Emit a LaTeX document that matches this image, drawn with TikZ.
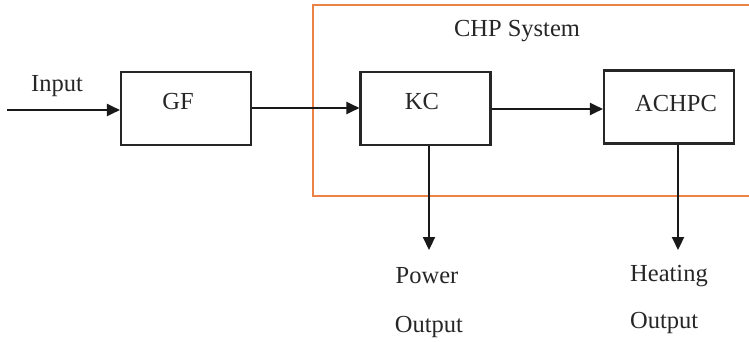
\documentclass[tikz,border=0pt]{standalone}
\usepackage{fontspec}
\setmainfont{Liberation Serif}
\usetikzlibrary{arrows.meta}
\begin{document}
\begin{tikzpicture}[x=1pt,y=-1pt,
  blk/.style={draw=black!85,line width=2.1pt,minimum width=130pt,minimum height=73pt,inner sep=0pt},
  lbl/.style={font=\fontsize{24.5}{28}\selectfont,text=black!85,anchor=base,inner sep=0pt},
  flow/.style={draw=black!90,line width=2.2pt,-{Triangle[length=13pt,width=12pt]}},
  sys/.style={draw={rgb,255:red,237;green,130;blue,70},line width=1.6pt}]
\useasboundingbox (0,0) rectangle (749,342);
% CHP system frame (right side cut off)
\draw[sys] (749,5) -- (313,5) -- (313,196) -- (749,196);
% blocks
\node[blk] (gf) at (186,108.5) {};
\node[blk] (kc) at (425.5,108.5) {};
\node[blk] (ach) at (669,107) {};
% labels
\node[lbl] (tin) at (57,92) {Input};
\node[lbl] (tgf) at (178,110) {GF};
\node[lbl] (tkc) at (422,110) {KC};
\node[lbl] (tach) at (676,112) {ACHPC};
\node[lbl] (tsys) at (517,37) {CHP System};
\node[lbl] (tpow) at (427,283) {Power};
\node[lbl] (tout1) at (429,332) {Output};
\node[lbl,anchor=base west] (theat) at (630,281) {Heating};
\node[lbl,anchor=base west] (tout2) at (630,328) {Output};
% connectors
\coordinate (in) at (7,110);
\coordinate (pw) at (429,250);
\coordinate (ht) at (678,250);
\draw[flow] (in) -- (in -| gf.west);
\draw[flow] (gf.east |- 0,108) -- (kc.west |- 0,108);
\draw[flow] (kc.east |- 0,109) -- (ach.west |- 0,109);
\draw[flow] (pw |- kc.south) -- (pw);
\draw[flow] (ht |- ach.south) -- (ht);
\end{tikzpicture}
\end{document}
